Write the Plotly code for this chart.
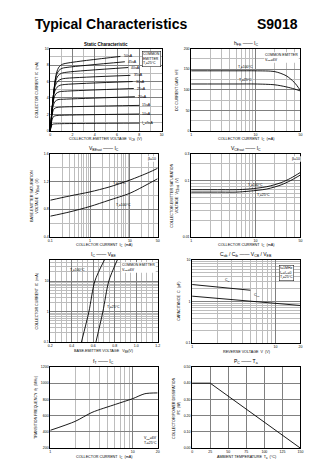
import plotly.graph_objects as go

# ---------------- DATA ----------------
# Panel 1: static characteristic (VCE in V, IC in mA), one curve per IB
ib_labels = ["I<sub>B</sub>=5uA", "10uA", "15uA", "20uA", "25uA", "30uA", "35uA", "40uA", "45uA", "50uA"]
static_v = [
    [0, 0.10, 0.20, 0.40, 1.0, 8.0],
    [0, 0.15, 0.30, 0.50, 1.0, 8.0],
    [0, 0.20, 0.35, 0.60, 1.0, 8.0],
    [0, 0.25, 0.45, 0.70, 1.2, 7.6],
    [0, 0.30, 0.50, 0.80, 1.3, 7.5],
    [0, 0.35, 0.60, 0.90, 1.4, 7.4],
    [0, 0.40, 0.65, 1.00, 1.5, 7.2],
    [0, 0.45, 0.70, 1.00, 1.6, 7.0],
    [0, 0.50, 0.75, 1.05, 1.7, 6.7],
    [0, 0.55, 0.80, 1.10, 1.8, 6.3],
]
static_i = [
    [0, 0.60, 0.80, 0.85, 0.88, 0.95],
    [0, 1.30, 1.75, 1.85, 1.90, 2.05],
    [0, 2.20, 2.70, 2.85, 2.90, 3.10],
    [0, 3.00, 3.60, 3.80, 3.85, 4.15],
    [0, 3.80, 4.50, 4.75, 4.82, 5.15],
    [0, 4.60, 5.30, 5.55, 5.65, 6.00],
    [0, 5.30, 6.00, 6.30, 6.40, 6.75],
    [0, 5.90, 6.70, 7.00, 7.15, 7.70],
    [0, 6.50, 7.30, 7.60, 7.75, 8.40],
    [0, 7.00, 7.80, 8.10, 8.30, 9.05],
]

# Panel 2: hFE vs IC
hfe_ic = [1, 5, 10, 20, 30, 40, 50]
hfe_100 = [146, 146, 146, 144, 134, 118, 98]
hfe_25 = [114, 114, 114, 112, 107, 102, 97]

# Panel 3: VBEsat vs IC
vbe_ic = [0.1, 0.3, 1, 3, 10, 30, 50]
vbesat_25 = [0.93, 0.99, 1.05, 1.12, 1.22, 1.33, 1.39]
vbesat_100 = [0.70, 0.76, 0.84, 0.93, 1.03, 1.17, 1.24]

# Panel 4: VCEsat vs IC
vce_ic = [1, 3, 5, 8, 15, 25, 35, 50]
vcesat_100 = [0.069, 0.069, 0.069, 0.071, 0.078, 0.092, 0.110, 0.140]
vcesat_25 = [0.0625, 0.0625, 0.0625, 0.065, 0.071, 0.084, 0.100, 0.126]

# Panel 5: IC vs VBE
ic_vals = [0.1, 1, 10, 50]
vbe_100 = [0.49, 0.56, 0.615, 0.705]
vbe_25 = [0.625, 0.69, 0.745, 0.825]

# Panel 6: capacitance vs reverse voltage
cib_v = [1, 5]
cib_pf = [2.55, 1.86]
cob_v = [1, 20]
cob_pf = [1.34, 0.80]

# Panel 7: fT vs IC
ft_ic = [1, 2, 3.2, 6.2, 10, 14, 20]
ft_mhz = [420, 530, 640, 740, 810, 870, 880]

# Panel 8: PC vs Ta
pc_ta = [0, 25, 150]
pc_w = [0.40, 0.40, 0.0]

# ---------------- LAYOUT ----------------
W, H = 336, 475
boxes = {  # left, right, top, bottom in pixels
    1: (49, 162, 47, 130),
    2: (192, 303, 47, 130),
    3: (49, 158, 153, 237),
    4: (192, 303, 153, 237),
    5: (49, 158, 260, 343),
    6: (193, 303, 260, 344),
    7: (49, 158, 368, 450),
    8: (193, 303, 368, 450),
}
FONT = "Liberation Sans, Arial"
GRID = "#808080"
MINOR = "#bdbdbd"

fig = go.Figure()
layout = dict(width=W, height=H, margin=dict(l=0, r=0, t=0, b=0),
              paper_bgcolor="white", plot_bgcolor="white", showlegend=False,
              font=dict(family=FONT, color="black", size=4))
annotations = []


def sfx(i):
    return "" if i == 1 else str(i)


def paper_text(px, py, text, size=4, angle=0, xanchor="center", yanchor="middle", **kw):
    d = dict(x=px / W, y=1 - py / H, xref="paper", yref="paper", text=text, showarrow=False,
             textangle=angle, xanchor=xanchor, yanchor=yanchor,
             font=dict(size=size, family=FONT, color="black"))
    d.update(kw)
    annotations.append(d)


def axes(i, xcfg, ycfg, xtitle, ytitle, ydist=15):
    l, r, t, b = boxes[i]
    base = dict(showline=True, linecolor="black", linewidth=0.8, mirror=True,
                showgrid=True, gridcolor=GRID, gridwidth=0.5, zeroline=False,
                ticks="", tickfont=dict(size=3.5, family=FONT))
    xa = dict(base, domain=[l / W, r / W], anchor="y" + sfx(i))
    xa.update(xcfg)
    ya = dict(base, domain=[1 - b / H, 1 - t / H], anchor="x" + sfx(i))
    ya.update(ycfg)
    layout["xaxis" + sfx(i)] = xa
    layout["yaxis" + sfx(i)] = ya
    paper_text((l + r) / 2, b + 9, xtitle, size=3.7)
    paper_text(l - ydist, (t + b) / 2, ytitle, size=3.7, angle=-90)


def line(i, x, y, w=0.9):
    fig.add_trace(go.Scatter(x=x, y=y, mode="lines", line=dict(color="black", width=w, shape="spline", smoothing=0.8),
                             xaxis="x" + sfx(i), yaxis="y" + sfx(i), hoverinfo="skip"))


def note(i, x, y, text, size=4, **kw):
    d = dict(x=x, y=y, xref="x" + sfx(i), yref="y" + sfx(i), text=text, showarrow=False,
             xanchor="center", yanchor="middle",
             font=dict(size=size, family=FONT, color="black"))
    d.update(kw)
    annotations.append(d)


def ptitle(i, text, size=5):
    l, r, t, b = boxes[i]
    paper_text((l + r) / 2, t + 0.5, text, size=size, yanchor="bottom")


def pbox(px, py, text, border=True):
    annotations.append(dict(x=px / W, y=1 - py / H, xref="paper", yref="paper", text=text,
                            showarrow=False, align="left", xanchor="left", yanchor="top",
                            font=dict(size=3.5, family=FONT, color="black"),
                            bgcolor="white", bordercolor="black" if border else "rgba(0,0,0,0)",
                            borderwidth=0.5, borderpad=0.5))


log_minor = lambda lo, hi: [m * 10 ** e for e in range(lo, hi) for m in range(2, 10)]
mgrid = dict(showgrid=True, gridcolor=MINOR, gridwidth=0.4)

# Panel 1
axes(1, dict(range=[0, 10], dtick=2, minor=dict(mgrid, dtick=1)),
     dict(range=[0, 10], dtick=2, minor=dict(mgrid, dtick=1)),
     "COLLECTOR-EMITTER VOLTAGE  V<sub>CE</sub>  (V)", "COLLECTOR CURRENT  I<sub>C</sub>  (mA)", ydist=13)
for lab, v, c in zip(ib_labels, static_v, static_i):
    line(1, v, c)
    note(1, v[-1] + 0.1, c[-1], lab, size=3.5, xanchor="left")
ptitle(1, "<b>Static Characteristic</b>", size=4.5)
pbox(142, 49, "COMMON<br>EMITTER<br>T<sub>j</sub>=25°C")

# Panel 2
axes(2, dict(type="log", range=[0, 1.69897], tickvals=[1, 10, 50], minor=dict(mgrid, tickvals=log_minor(0, 2))),
     dict(range=[0, 200], dtick=50, minor=dict(mgrid, dtick=25)),
     "COLLECTOR CURRENT  I<sub>C</sub>  (mA)", "DC CURRENT GAIN  h<sub>FE</sub>", ydist=14)
line(2, hfe_ic, hfe_100)
line(2, hfe_ic, hfe_25)
note(2, 0.85, 154, "T<sub>j</sub>=100°C", size=3.5)
note(2, 0.85, 122, "T<sub>j</sub>=25°C", size=3.5)
ptitle(2, "h<sub>FE</sub> —— I<sub>C</sub>")
pbox(266, 50, "COMMON EMITTER<br>V<sub>CE</sub>=6V", border=False)

# Panel 3
axes(3, dict(type="log", range=[-1, 1.69897], tickvals=[0.1, 1, 10, 50], minor=dict(mgrid, tickvals=log_minor(-1, 2))),
     dict(range=[0.4, 1.6], tickvals=[0.4, 0.8, 1.2, 1.6], ticktext=["0.4", "0.8", "1.2", "1.6"],
          minor=dict(mgrid, dtick=0.2)),
     "COLLECTOR CURRENT  I<sub>C</sub>  (mA)", "BASE-EMITTER SATURATION<br>VOLTAGE  V<sub>BEsat</sub>  (V)", ydist=15)
line(3, vbe_ic, vbesat_25)
line(3, vbe_ic, vbesat_100)
note(3, 0.75, 1.17, "T<sub>j</sub>=25°C", size=3.5)
note(3, 0.85, 0.85, "T<sub>j</sub>=100°C", size=3.5)
ptitle(3, "V<sub>BEsat</sub> —— I<sub>C</sub>")
pbox(147, 155, "β=10", border=False)

# Panel 4
axes(4, dict(type="log", range=[0, 1.69897], tickvals=[1, 10, 50], minor=dict(mgrid, tickvals=log_minor(0, 2))),
     dict(type="log", range=[-2, -0.5229], tickvals=[0.01, 0.1, 0.3], minor=dict(mgrid, tickvals=log_minor(-2, 0))),
     "COLLECTOR CURRENT  I<sub>C</sub>  (mA)", "COLLECTOR-EMITTER SATURATION<br>VOLTAGE  V<sub>CEsat</sub>  (V)", ydist=16)
line(4, vce_ic, vcesat_100)
line(4, vce_ic, vcesat_25)
note(4, 1.0, -1.08, "T<sub>j</sub>=100°C", size=3.5)
note(4, 1.12, -1.27, "T<sub>j</sub>=25°C", size=3.5)
ptitle(4, "V<sub>CEsat</sub> —— I<sub>C</sub>")
pbox(293, 155, "β=10", border=False)

# Panel 5
axes(5, dict(range=[0.2, 1.2], tickvals=[0.2, 0.4, 0.6, 0.8, 1.0, 1.2],
             ticktext=["0.2", "0.4", "0.6", "0.8", "1.0", "1.2"], minor=dict(mgrid, dtick=0.05)),
     dict(type="log", range=[-1, 1.69897], tickvals=[0.1, 1, 10], minor=dict(mgrid, tickvals=log_minor(-1, 2))),
     "BASE-EMITTER VOLTAGE   V<sub>BE</sub>(V)", "COLLECTOR CURRENT  I<sub>C</sub>  (mA)", ydist=13)
line(5, vbe_100, ic_vals)
line(5, vbe_25, ic_vals)
note(5, 0.45, 1.35, "T<sub>j</sub>=100°C", size=3.5)
note(5, 0.79, 0.15, "T<sub>j</sub>=25°C", size=3.5)
ptitle(5, "I<sub>C</sub> —— V<sub>BE</sub>")
pbox(121, 262, "COMMON EMITTER<br>V<sub>CE</sub>=6V", border=False)

# Panel 6
axes(6, dict(type="log", range=[0, 1.30103], tickvals=[1, 10, 20], minor=dict(mgrid, tickvals=log_minor(0, 2))),
     dict(type="log", range=[-1, 1], tickvals=[0.1, 1, 10], minor=dict(mgrid, tickvals=log_minor(-1, 1))),
     "REVERSE VOLTAGE  V  (V)", "CAPACITANCE  C  (pF)", ydist=13)
line(6, cib_v, cib_pf)
line(6, cob_v, cob_pf)
note(6, 0.42, 0.50, "C<sub>ib</sub>", size=3.5)
note(6, 0.78, 0.14, "C<sub>ob</sub>", size=3.5)
ptitle(6, "C<sub>ob</sub> / C<sub>ib</sub> —— V<sub>CB</sub> / V<sub>EB</sub>")
pbox(281, 265, "f=1MHz<br>I<sub>E</sub>=I<sub>C</sub>=0<br>T<sub>j</sub>=25°C")

# Panel 7
axes(7, dict(type="log", range=[0, 1.30103], tickvals=[1, 10, 20], minor=dict(mgrid, tickvals=log_minor(0, 2))),
     dict(range=[200, 1200], dtick=200),
     "COLLECTOR CURRENT  I<sub>C</sub>  (mA)", "TRANSITION FREQUENCY  f<sub>T</sub>  (MHz)", ydist=14)
line(7, ft_ic, ft_mhz)
ptitle(7, "f<sub>T</sub> —— I<sub>C</sub>")
pbox(143, 437, "V<sub>CE</sub>=6V<br>T<sub>j</sub>=25°C", border=False)

# Panel 8
axes(8, dict(range=[0, 150], dtick=25),
     dict(range=[0, 0.5], tickvals=[0, 0.1, 0.2, 0.3, 0.4, 0.5],
          ticktext=["0.00", "0.10", "0.20", "0.30", "0.40", "0.50"]),
     "AMBIENT TEMPERATURE  T<sub>a</sub>  (°C)", "COLLECTOR POWER DISSIPATION<br>P<sub>C</sub>  (W)", ydist=16)
fig.add_trace(go.Scatter(x=pc_ta, y=pc_w, mode="lines", line=dict(color="black", width=0.9),
                         xaxis="x8", yaxis="y8", hoverinfo="skip"))
ptitle(8, "P<sub>C</sub> —— T<sub>a</sub>")

# Main heading
paper_text(31, 22, "<b>Typical Characteristics</b>", size=14, xanchor="left")
paper_text(303, 22, "<b>S9018</b>", size=14, xanchor="right")

layout["annotations"] = annotations
fig.update_layout(**layout)
fig.write_html("out.html")
